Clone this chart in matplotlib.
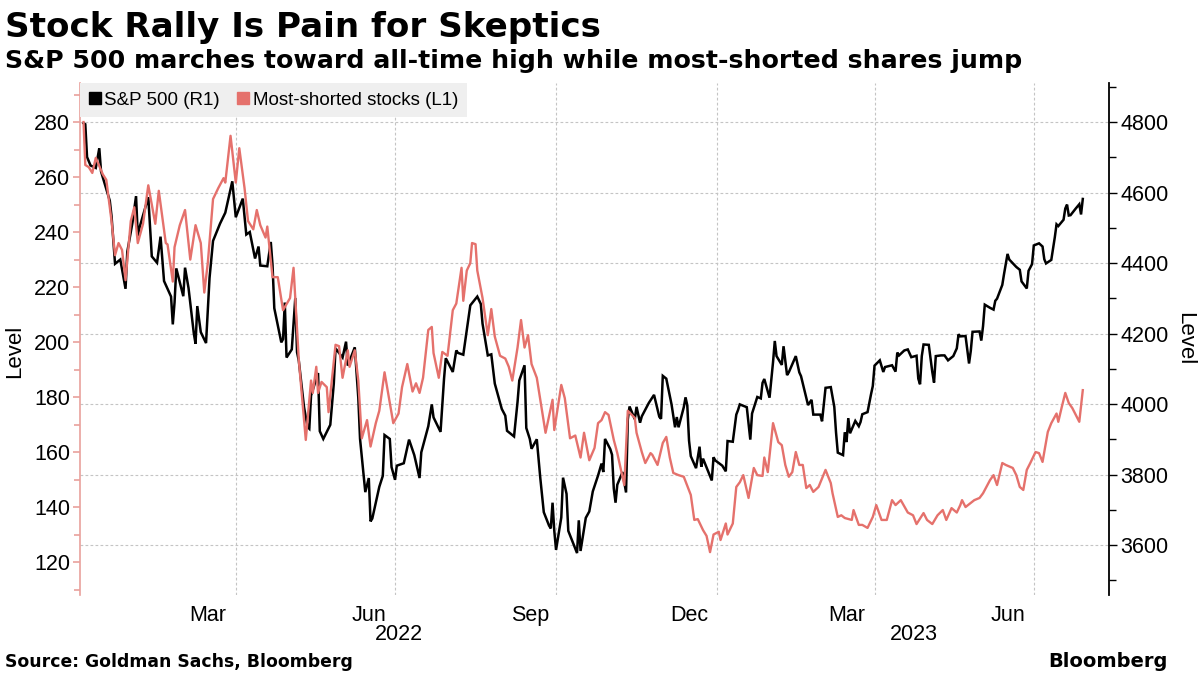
import matplotlib
matplotlib.use("Agg")
import matplotlib.pyplot as plt
import matplotlib.dates as mdates
from matplotlib.ticker import FixedLocator, FixedFormatter, MultipleLocator, NullFormatter
from matplotlib.lines import Line2D
import pandas as pd

# S&P 500 closes (right axis)
sp_dates = [
    "2022-01-03", "2022-01-04", "2022-01-05", "2022-01-07", "2022-01-10", "2022-01-12", "2022-01-13",
    "2022-01-18", "2022-01-19", "2022-01-21", "2022-01-24", "2022-01-27", "2022-01-28", "2022-01-31",
    "2022-02-02", "2022-02-03", "2022-02-04", "2022-02-09", "2022-02-10", "2022-02-11", "2022-02-14",
    "2022-02-16", "2022-02-18", "2022-02-22", "2022-02-23", "2022-02-24", "2022-02-25", "2022-03-01",
    "2022-03-02", "2022-03-04", "2022-03-07", "2022-03-08", "2022-03-09", "2022-03-11", "2022-03-14",
    "2022-03-16", "2022-03-18", "2022-03-22", "2022-03-25", "2022-03-29", "2022-03-31", "2022-04-04",
    "2022-04-06", "2022-04-08", "2022-04-11", "2022-04-13", "2022-04-14", "2022-04-18", "2022-04-20",
    "2022-04-21", "2022-04-22", "2022-04-26", "2022-04-27", "2022-04-28", "2022-04-29", "2022-05-02",
    "2022-05-04", "2022-05-05", "2022-05-06", "2022-05-09", "2022-05-11", "2022-05-12", "2022-05-13",
    "2022-05-17", "2022-05-18", "2022-05-20", "2022-05-24", "2022-05-26", "2022-05-27", "2022-05-31",
    "2022-06-02", "2022-06-03", "2022-06-07", "2022-06-09", "2022-06-10", "2022-06-13", "2022-06-15",
    "2022-06-16", "2022-06-17", "2022-06-21", "2022-06-23", "2022-06-24", "2022-06-27", "2022-06-28",
    "2022-06-30", "2022-07-01", "2022-07-05", "2022-07-08", "2022-07-11", "2022-07-14", "2022-07-15",
    "2022-07-19", "2022-07-21", "2022-07-22", "2022-07-26", "2022-07-28", "2022-07-29", "2022-08-02",
    "2022-08-04", "2022-08-05", "2022-08-08", "2022-08-10", "2022-08-12", "2022-08-16", "2022-08-18",
    "2022-08-19", "2022-08-22", "2022-08-24", "2022-08-26", "2022-08-30", "2022-09-01", "2022-09-02",
    "2022-09-06", "2022-09-08", "2022-09-09", "2022-09-12", "2022-09-13", "2022-09-15", "2022-09-16",
    "2022-09-19", "2022-09-21", "2022-09-23", "2022-09-26", "2022-09-27", "2022-09-28", "2022-09-29",
    "2022-09-30", "2022-10-03", "2022-10-04", "2022-10-06", "2022-10-07", "2022-10-11", "2022-10-12",
    "2022-10-13", "2022-10-14", "2022-10-17", "2022-10-19", "2022-10-21", "2022-10-24", "2022-10-26",
    "2022-10-27", "2022-10-28", "2022-10-31", "2022-11-01", "2022-11-02", "2022-11-03", "2022-11-04",
    "2022-11-07", "2022-11-09", "2022-11-10", "2022-11-11", "2022-11-14", "2022-11-15", "2022-11-17",
    "2022-11-18", "2022-11-22", "2022-11-25", "2022-11-28", "2022-11-29", "2022-11-30", "2022-12-01",
    "2022-12-02", "2022-12-05", "2022-12-07", "2022-12-08", "2022-12-09", "2022-12-12", "2022-12-13",
    "2022-12-14", "2022-12-15", "2022-12-16", "2022-12-19", "2022-12-21", "2022-12-22", "2022-12-23",
    "2022-12-28", "2022-12-29", "2022-12-30",
    "2023-01-03", "2023-01-05", "2023-01-06", "2023-01-09", "2023-01-11", "2023-01-12", "2023-01-13",
    "2023-01-17", "2023-01-19", "2023-01-20", "2023-01-23", "2023-01-25", "2023-01-26", "2023-01-27",
    "2023-01-30", "2023-02-01", "2023-02-02", "2023-02-03", "2023-02-06", "2023-02-07", "2023-02-09",
    "2023-02-10", "2023-02-14", "2023-02-16", "2023-02-17", "2023-02-21", "2023-02-23", "2023-02-24",
    "2023-02-28", "2023-03-01", "2023-03-03", "2023-03-06", "2023-03-08", "2023-03-09", "2023-03-10",
    "2023-03-13", "2023-03-14", "2023-03-15", "2023-03-16", "2023-03-17", "2023-03-20", "2023-03-22",
    "2023-03-23", "2023-03-24", "2023-03-27", "2023-03-29", "2023-03-30", "2023-03-31", "2023-04-03",
    "2023-04-05", "2023-04-06", "2023-04-10", "2023-04-12", "2023-04-13", "2023-04-14", "2023-04-17",
    "2023-04-19", "2023-04-21", "2023-04-24", "2023-04-25", "2023-04-26", "2023-04-27", "2023-04-28",
    "2023-05-01", "2023-05-03", "2023-05-04", "2023-05-05", "2023-05-08", "2023-05-10", "2023-05-12",
    "2023-05-15", "2023-05-17", "2023-05-18", "2023-05-19", "2023-05-22", "2023-05-24", "2023-05-25",
    "2023-05-26", "2023-05-30", "2023-05-31", "2023-06-01", "2023-06-02", "2023-06-05", "2023-06-07",
    "2023-06-08", "2023-06-09", "2023-06-12", "2023-06-13", "2023-06-15", "2023-06-16", "2023-06-20",
    "2023-06-22", "2023-06-23", "2023-06-26", "2023-06-27", "2023-06-29", "2023-06-30", "2023-07-03",
    "2023-07-05", "2023-07-06", "2023-07-07", "2023-07-10", "2023-07-12", "2023-07-13", "2023-07-14",
    "2023-07-17", "2023-07-18", "2023-07-19", "2023-07-20", "2023-07-21", "2023-07-24", "2023-07-26",
    "2023-07-27", "2023-07-28",
]
sp_level = [
    4797, 4794, 4701, 4677, 4670, 4726, 4660,
    4577, 4533, 4398, 4410, 4327, 4432, 4516,
    4590, 4478, 4501, 4587, 4504, 4419, 4401,
    4475, 4349, 4305, 4226, 4288, 4385, 4306,
    4387, 4329, 4201, 4171, 4278, 4204, 4173,
    4358, 4463, 4512, 4543, 4632, 4530, 4583,
    4481, 4488, 4413, 4447, 4393, 4391, 4460,
    4394, 4272, 4175, 4184, 4288, 4132, 4155,
    4301, 4147, 4123, 3991, 3935, 3930, 4024,
    4088, 3923, 3901, 3941, 4058, 4158, 4132,
    4177, 4109, 4161, 4018, 3901, 3750, 3790,
    3667, 3675, 3765, 3796, 3912, 3901, 3821,
    3785, 3825, 3832, 3899, 3855, 3790, 3863,
    3937, 3999, 3962, 3921, 4072, 4130, 4091,
    4152, 4145, 4140, 4210, 4280, 4305, 4284,
    4228, 4138, 4141, 4058, 3986, 3967, 3924,
    3908, 4006, 4067, 4110, 3932, 3901, 3873,
    3900, 3790, 3693, 3655, 3647, 3720, 3640,
    3586, 3678, 3791, 3745, 3640, 3589, 3577,
    3670, 3583, 3677, 3695, 3752, 3797, 3831,
    3807, 3901, 3872, 3856, 3760, 3720, 3771,
    3807, 3749, 3956, 3993, 3957, 3992, 3947,
    3965, 4003, 4026, 3964, 3958, 4080, 4076,
    4072, 3999, 3934, 3963, 3934, 3991, 4019,
    3996, 3896, 3852, 3818, 3879, 3822, 3845,
    3783, 3849, 3840,
    3825, 3809, 3895, 3893, 3970, 3983, 3999,
    3991, 3899, 3973, 4020, 4016, 4060, 4071,
    4018, 4119, 4179, 4136, 4111, 4164, 4082,
    4090, 4136, 4090, 4079, 3997, 4012, 3970,
    3970, 3951, 4046, 4048, 3992, 3919, 3862,
    3855, 3920, 3892, 3960, 3917, 3952, 3937,
    3949, 3971, 3977, 4028, 4051, 4109, 4124,
    4091, 4105, 4110, 4092, 4146, 4138, 4152,
    4155, 4133, 4137, 4072, 4056, 4136, 4169,
    4168, 4091, 4061, 4136, 4138, 4138, 4124,
    4136, 4158, 4198, 4192, 4193, 4115, 4151,
    4205, 4206, 4180, 4221, 4282, 4273, 4268,
    4293, 4299, 4338, 4369, 4426, 4410, 4389,
    4381, 4348, 4328, 4378, 4397, 4450, 4456,
    4447, 4411, 4399, 4409, 4473, 4510, 4505,
    4523, 4555, 4566, 4535, 4536, 4555, 4567,
    4538, 4582,
]

# Goldman most-shorted basket (left axis); x = days since 2022-01-01
short_days = [
    2, 3, 5, 7, 9, 13, 15, 18, 20, 22, 24, 26, 29, 31, 33, 36, 39, 43, 45, 49,
    50, 53, 54, 57, 60, 63, 66, 69, 71, 73, 76, 79, 82, 83, 86, 89, 91, 94, 96, 99,
    101, 103, 106, 107, 110, 113, 116, 120, 122, 125, 129, 132, 133, 135, 136, 138, 141, 142, 146, 148,
    150, 153, 154, 157, 159, 161, 164, 166, 169, 171, 174, 177, 179, 182, 184, 187, 190, 192, 194, 196,
    199, 201, 202, 205, 207, 210, 213, 215, 218, 219, 221, 223, 224, 226, 227, 230, 233, 235, 237, 240,
    243, 245, 247, 250, 252, 254, 256, 258, 261, 264, 266, 270, 271, 275, 277, 280, 283, 286, 288, 291,
    294, 296, 298, 300, 302, 305, 307, 311, 313, 317, 318, 321, 323, 326, 327, 330, 333, 335, 337, 339,
    342, 345, 349, 351, 353, 356, 358, 360, 362, 365, 366, 369, 370, 373, 375, 377, 379, 382, 385, 387,
    390, 391, 393, 396, 399, 401, 403, 405, 407, 409, 411, 413, 415, 417, 419, 422, 426, 429, 430, 433,
    435, 437, 441, 442, 445, 447, 450, 453, 455, 458, 461, 464, 466, 469, 473, 476, 478, 482, 484, 487,
    490, 493, 495, 498, 501, 503, 504, 506, 511, 514, 516, 520, 522, 524, 527, 529, 533, 535, 537, 539,
    541, 543, 546, 548, 550, 553, 555, 558, 559, 561, 563, 565, 567, 571, 573,
]
short_level = [
    280, 264.4, 263.6, 261.5, 267, 261, 259, 244, 231.6, 236, 233.5, 222.5, 244, 249, 236, 243, 257, 243, 255, 236,
    235.5, 222, 234.5, 242.5, 248, 230, 242.5, 236, 218, 228.7, 252, 256, 259.6, 258, 275, 258, 270.5, 256, 244, 241,
    248, 242.5, 238, 242, 223.6, 223.6, 211.6, 216, 227, 193.5, 164.4, 186, 181.5, 191, 181.5, 185.5, 183.6, 174.5, 199, 198.5,
    187, 197, 191, 197, 186, 165, 171.6, 162, 170.5, 175, 189, 178, 170.5, 174, 183.6, 192, 182, 185, 181.5, 187,
    204.4, 205.5, 196, 187, 196.4, 195, 211.6, 214, 227, 215, 226, 228.7, 236, 235.6, 226, 216, 202.5, 212, 202, 195,
    194, 191, 186, 198, 208, 198, 202.5, 192, 187, 175, 167, 179, 168, 184.4, 179.6, 165, 166, 158, 167, 157,
    161.5, 170.5, 171.6, 174.5, 173.5, 164.4, 159.6, 148, 175, 172.4, 167, 160, 156, 159.6, 159, 155.3, 163.3, 165.5, 158, 152.4,
    151.6, 151, 144.4, 135.3, 135.6, 131.6, 129.5, 123.6, 130, 131, 128, 134, 130, 134, 147.3, 149, 151.6, 143.3, 154.2, 151.6,
    151.3, 158, 152.7, 170.5, 163.6, 162.5, 155.3, 151, 152.7, 160, 155.3, 155.3, 146.9, 148, 145.5, 147.3, 153.5, 148.7, 145, 136.4,
    137, 136, 135.3, 138.9, 133.5, 133.5, 132.4, 136.4, 140.7, 135.3, 135.3, 142.5, 140.7, 142.5, 138, 137, 133.8, 137.8, 135.3, 133.8,
    137, 138.9, 135.3, 139.6, 138, 140.7, 142.5, 140, 142.5, 143.3, 145, 149.8, 151.6, 148, 156, 155.3, 154.2, 151.6, 147.3, 146.2,
    153.5, 156, 160, 159.6, 156.4, 167.3, 170.5, 174, 171, 176.4, 181.5, 177.8, 176, 171, 182.5,
]

month_labels = ["Mar", "Jun", "Sep", "Dec", "Mar", "Jun"]
month_label_dates = ["2022-03-15", "2022-06-15", "2022-09-15", "2022-12-15", "2023-03-15", "2023-06-15"]
quarter_ends = ["2022-03-31", "2022-06-30", "2022-09-30", "2022-12-31", "2023-03-31", "2023-06-30"]
year_labels = ["2022", "2023"]

BLACK = "#000000"
RED = "#e5716c"
AXIS_RED = "#e9a19c"
GRID = "#c4c4c4"

plt.rcParams["font.family"] = ["Liberation Sans", "DejaVu Sans"]

sp_x = pd.to_datetime(sp_dates)
short_x = pd.Timestamp("2022-01-01") + pd.to_timedelta(short_days, unit="D")
x_start = pd.Timestamp("2022-01-01")
x_end = pd.Timestamp("2023-08-12")

fig = plt.figure(figsize=(12, 6.75), dpi=100)
ax = fig.add_axes([0.0667, 0.1185, 0.8575, 0.7585])
ax_l = ax.twinx()

# right axis (S&P 500) carries the grid
ax.yaxis.tick_right()
ax.yaxis.set_label_position("right")
ax_l.yaxis.tick_left()
ax_l.yaxis.set_label_position("left")

ax.plot(sp_x, sp_level, color=BLACK, lw=1.8, solid_joinstyle="miter")
ax_l.plot(short_x, short_level, color=RED, lw=1.7)

ax.set_xlim(x_start, x_end)
ax.set_ylim(3458, 4911)
ax_l.set_ylim(108, 294.2)

ax.set_yticks(range(3600, 4801, 200))
ax.yaxis.set_minor_locator(MultipleLocator(100))
ax.tick_params(axis="y", which="both", direction="out", color=BLACK, labelsize=15.5,
               right=True, left=False, labelright=True, labelleft=False, pad=2)
ax.tick_params(axis="y", which="major", length=6, width=1)
ax.tick_params(axis="y", which="minor", length=5, width=1)

ax_l.set_yticks(range(120, 281, 20))
ax_l.yaxis.set_minor_locator(MultipleLocator(10))
ax_l.tick_params(axis="y", which="both", direction="out", color=AXIS_RED, labelsize=15.5,
                 left=True, right=False, labelleft=True, labelright=False, pad=2)
ax_l.tick_params(axis="y", which="major", length=5, width=1.2)
ax_l.tick_params(axis="y", which="minor", length=4, width=1.2)

for s in ["top", "bottom", "left"]:
    ax.spines[s].set_visible(False)
ax.spines["right"].set_color(BLACK)
ax.spines["right"].set_linewidth(1.3)
for s in ["top", "bottom", "right"]:
    ax_l.spines[s].set_visible(False)
ax_l.spines["left"].set_color(AXIS_RED)
ax_l.spines["left"].set_linewidth(1.2)

# x axis: grid at quarter ends, month names mid-month
ax.xaxis.set_major_locator(FixedLocator(mdates.date2num(pd.to_datetime(quarter_ends))))
ax.xaxis.set_major_formatter(NullFormatter())
ax.xaxis.set_minor_locator(FixedLocator(mdates.date2num(pd.to_datetime(month_label_dates))))
ax.xaxis.set_minor_formatter(FixedFormatter(month_labels))
ax.tick_params(axis="x", which="both", length=0, labelsize=15.5, pad=7)

ax.grid(axis="both", which="major", color=GRID, lw=0.8, ls=(0, (2.5, 2)))

year_pos = [x_start + (pd.Timestamp("2023-01-01") - x_start) / 2,
            pd.Timestamp("2023-01-01") + (x_end - pd.Timestamp("2023-01-01")) / 2]
for pos, lab in zip(year_pos, year_labels):
    ax.text(pos, -0.078, lab, transform=ax.get_xaxis_transform(), ha="center", va="center", fontsize=15.5)

fig.text(15 / 1200, 1 - 351 / 675, "Level", rotation=90, ha="center", va="center", fontsize=16)
fig.text(1185 / 1200, 1 - 339 / 675, "Level", rotation=-90, ha="center", va="center", fontsize=16)

handles = [Line2D([], [], marker="s", color=BLACK, ls="none", markersize=9),
           Line2D([], [], marker="s", color=RED, ls="none", markersize=9)]
leg = ax_l.legend(handles, ["S&P 500 (R1)", "Most-shorted stocks (L1)"], loc="upper left",
                  bbox_to_anchor=(0, 1), ncol=2, frameon=True, facecolor="#efefef", edgecolor="none",
                  framealpha=1, fancybox=False, borderaxespad=0, handletextpad=0.15, columnspacing=0.9,
                  handlelength=0.7, fontsize=13.5, borderpad=0.45)

fig.text(5 / 1200, 1 - 37 / 675, "Stock Rally Is Pain for Skeptics", family="DejaVu Sans",
         weight="bold", fontsize=24.6, va="baseline")
fig.text(5 / 1200, 1 - 68 / 675, "S&P 500 marches toward all-time high while most-shorted shares jump",
         family="DejaVu Sans", weight="bold", fontsize=18.2, va="baseline")
fig.text(5 / 1200, 1 - 667 / 675, "Source: Goldman Sachs, Bloomberg", family="DejaVu Sans",
         weight="bold", fontsize=12.45, va="baseline")
fig.text(1168 / 1200, 1 - 667 / 675, "Bloomberg", family="DejaVu Sans", weight="bold",
         fontsize=14, va="baseline", ha="right")

fig.savefig("out.png", dpi=100)
